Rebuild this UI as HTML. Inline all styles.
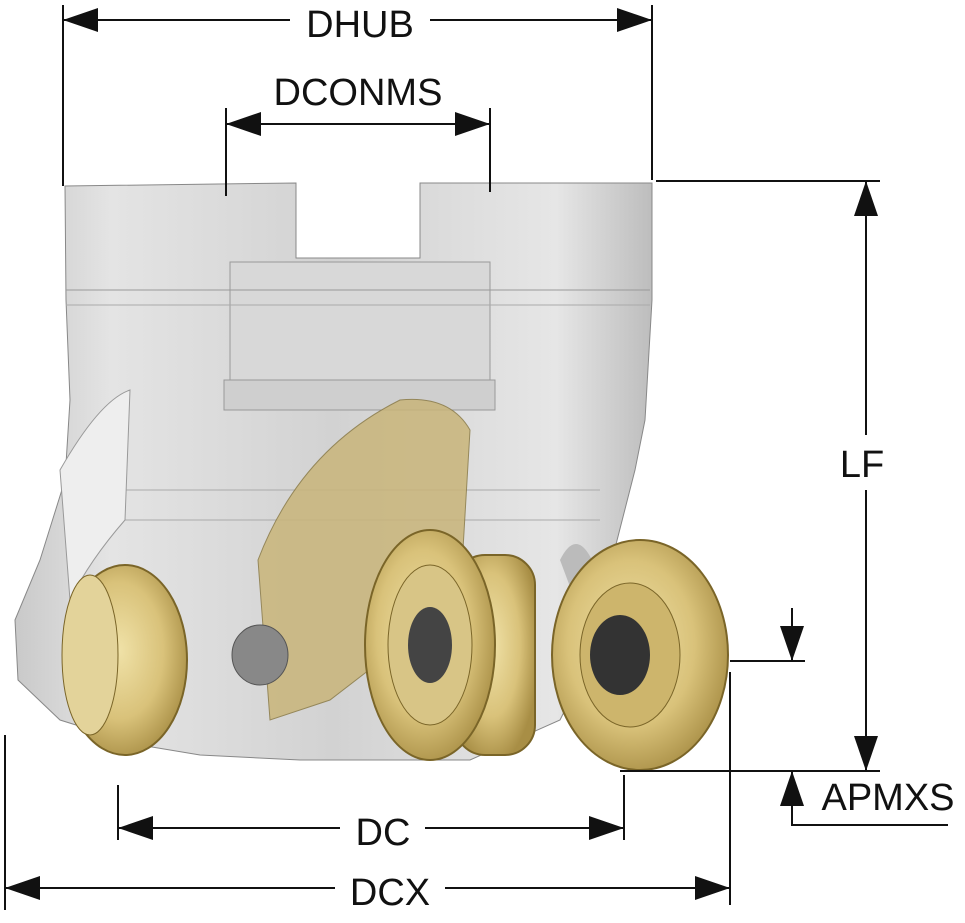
<!DOCTYPE html>
<html><head><meta charset="utf-8"><style>
html,body{margin:0;padding:0;background:#fff;}
svg{display:block;}
text{font-family:"Liberation Sans",sans-serif;font-size:38px;fill:#111;}
</style></head><body>
<svg width="965" height="923" viewBox="0 0 965 923" xmlns="http://www.w3.org/2000/svg">
<defs>
<linearGradient id="body" x1="0" x2="1" y1="0" y2="0">
<stop offset="0" stop-color="#c9c9c9"/><stop offset="0.15" stop-color="#e4e4e4"/>
<stop offset="0.5" stop-color="#d2d2d2"/><stop offset="0.85" stop-color="#e6e6e6"/><stop offset="1" stop-color="#bdbdbd"/>
</linearGradient>
<radialGradient id="gold" cx="0.45" cy="0.45" r="0.6">
<stop offset="0" stop-color="#f0e2a8"/><stop offset="0.6" stop-color="#d9c27a"/><stop offset="1" stop-color="#a88e45"/>
</radialGradient>
</defs>
<path d="M65,186 L296,183 L296,258 L420,258 L420,183 L652,183 L652,300 L645,420 L635,470 L612,560 L600,640 L560,720 L470,760 L300,760 L200,755 L140,745 L60,720 L18,680 L15,620 L40,560 L65,480 L70,400 L66,300 Z" fill="url(#body)" stroke="#888" stroke-width="1"/>
<path d="M230,262 L490,262 L490,380 L230,380 Z" fill="#d8d8d8" stroke="#999" stroke-width="1"/>
<line x1="66" y1="290" x2="650" y2="290" stroke="#999"/>
<line x1="66" y1="305" x2="650" y2="305" stroke="#aaa"/>
<rect x="224" y="380" width="271" height="30" fill="#cfcfcf" stroke="#999"/>
<line x1="100" y1="490" x2="600" y2="490" stroke="#aaa"/>
<line x1="100" y1="520" x2="600" y2="520" stroke="#aaa"/>
<path d="M60,470 Q100,400 130,390 L125,520 Q90,560 70,600 Z" fill="#eeeeee" stroke="#999"/>
<path d="M258,560 Q300,450 400,400 Q450,395 470,430 L460,600 L330,700 L270,720 Z" fill="#c9b57a" stroke="#8a7a45" opacity="0.85"/>
<path d="M560,560 Q580,520 600,580 L590,640 Z" fill="#bbb"/>
<ellipse cx="260" cy="655" rx="28" ry="30" fill="#888" stroke="#555"/>
<ellipse cx="125" cy="660" rx="62" ry="95" fill="url(#gold)" stroke="#7a6528" stroke-width="2"/>
<ellipse cx="90" cy="655" rx="28" ry="80" fill="#e3d39a" stroke="#7a6528"/>
<ellipse cx="640" cy="655" rx="88" ry="115" fill="url(#gold)" stroke="#7a6528" stroke-width="2"/>
<ellipse cx="630" cy="655" rx="50" ry="72" fill="#cdb56c" stroke="#7a6528"/>
<ellipse cx="620" cy="655" rx="30" ry="40" fill="#333"/>
<rect x="455" y="555" width="80" height="200" rx="30" fill="url(#gold)" stroke="#7a6528" stroke-width="2"/>
<ellipse cx="430" cy="645" rx="65" ry="115" fill="url(#gold)" stroke="#7a6528" stroke-width="2"/>
<ellipse cx="430" cy="645" rx="42" ry="80" fill="#d8c586" stroke="#7a6528"/>
<ellipse cx="430" cy="645" rx="22" ry="38" fill="#444"/>
<g stroke="#111" stroke-width="2" fill="none">
<line x1="63" y1="5" x2="63" y2="186"/><line x1="652" y1="5" x2="652" y2="180"/>
<line x1="63" y1="20" x2="290" y2="20"/><line x1="430" y1="20" x2="652" y2="20"/>
<line x1="226" y1="108" x2="226" y2="196"/><line x1="490" y1="108" x2="490" y2="192"/>
<line x1="226" y1="124" x2="490" y2="124"/>
<line x1="656" y1="181" x2="880" y2="181"/>
<line x1="866" y1="181" x2="866" y2="435"/><line x1="866" y1="490" x2="866" y2="771"/>
<line x1="730" y1="661" x2="805" y2="661"/>
<line x1="620" y1="771" x2="880" y2="771"/>
<line x1="792" y1="608" x2="792" y2="661"/>
<polyline points="792,771 792,825 948,825"/>
<line x1="118" y1="785" x2="118" y2="840"/><line x1="624" y1="775" x2="624" y2="840"/>
<line x1="118" y1="828" x2="340" y2="828"/><line x1="425" y1="828" x2="624" y2="828"/>
<line x1="5" y1="735" x2="5" y2="910"/><line x1="730" y1="672" x2="730" y2="905"/>
<line x1="5" y1="888" x2="335" y2="888"/><line x1="445" y1="888" x2="730" y2="888"/>
</g>
<g fill="#111">
<polygon points="63,20 98,8 98,32"/><polygon points="652,20 617,8 617,32"/>
<polygon points="226,124 261,112 261,136"/><polygon points="490,124 455,112 455,136"/>
<polygon points="866,181 854,216 878,216"/><polygon points="866,771 854,736 878,736"/>
<polygon points="792,661 780,626 804,626"/><polygon points="792,771 780,806 804,806"/>
<polygon points="118,828 153,816 153,840"/><polygon points="624,828 589,816 589,840"/>
<polygon points="5,888 40,876 40,900"/><polygon points="730,888 695,876 695,900"/>
</g>
<text x="360" y="37" text-anchor="middle">DHUB</text>
<text x="358" y="105" text-anchor="middle">DCONMS</text>
<text x="862" y="477" text-anchor="middle">LF</text>
<text x="888" y="810" text-anchor="middle">APMXS</text>
<text x="383" y="845" text-anchor="middle">DC</text>
<text x="390" y="905" text-anchor="middle">DCX</text>
</svg>
</body></html>
